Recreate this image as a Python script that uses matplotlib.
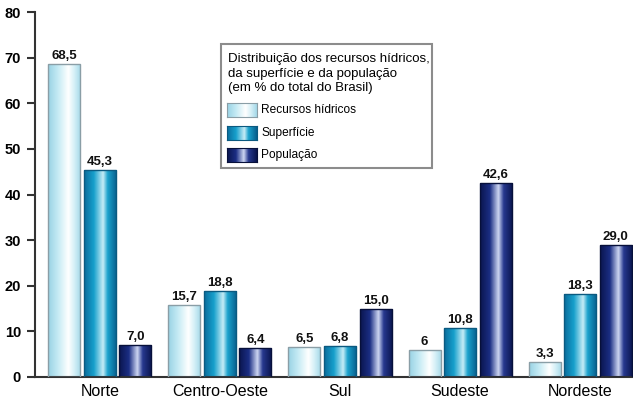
import numpy as np
import matplotlib
matplotlib.use("Agg")
import matplotlib.pyplot as plt
from matplotlib.colors import LinearSegmentedColormap
from matplotlib.patches import Rectangle

plt.rcParams['font.family'] = ['Liberation Sans', 'DejaVu Sans']

categories = ["Norte", "Centro-Oeste", "Sul", "Sudeste", "Nordeste"]
series_names = ["Recursos hídricos", "Superfície", "População"]
recursos = [68.5, 15.7, 6.5, 6.0, 3.3]
superficie = [45.3, 18.8, 6.8, 10.8, 18.3]
populacao = [7.0, 6.4, 15.0, 42.6, 29.0]
recursos_labels = ["68,5", "15,7", "6,5", "6", "3,3"]
superficie_labels = ["45,3", "18,8", "6,8", "10,8", "18,3"]
populacao_labels = ["7,0", "6,4", "15,0", "42,6", "29,0"]
yticks = [0, 10, 20, 30, 40, 50, 60, 70, 80]
legend_title_lines = ["Distribuição dos recursos hídricos,",
                      "da superfície e da população",
                      "(em % do total do Brasil)"]

W, H = 633, 405
fig = plt.figure(figsize=(W / 100, H / 100), dpi=100)
ax = fig.add_axes([35 / W, (H - 377) / H, 598 / W, 365 / H])

gradients = [
    [(0.0, "#98d2e4"), (0.3, "#c4eaf4"), (0.62, "#ffffff"), (0.8, "#d6f0f7"), (1.0, "#a2d8e8")],
    [(0.0, "#0a6c9c"), (0.3, "#17a0cc"), (0.58, "#c6ecf6"), (0.72, "#1ba2cd"), (1.0, "#075e8c")],
    [(0.0, "#0a154e"), (0.3, "#1b2e84"), (0.56, "#cdd6f2"), (0.72, "#27398f"), (1.0, "#09144c")],
]
edgecolors = ["#8a9ea6", "#0b5a80", "#07103a"]
cmaps = [LinearSegmentedColormap.from_list(f"g{i}", g) for i, g in enumerate(gradients)]

x = np.arange(len(categories))
width = 0.267
step = 0.296
all_vals = [recursos, superficie, populacao]
all_labels = [recursos_labels, superficie_labels, populacao_labels]
grad = np.linspace(0, 1, 256).reshape(1, -1)

ax.set_xlim(-0.54, 4.44)
ax.set_ylim(0, 80)

for i, (vals, labs) in enumerate(zip(all_vals, all_labels)):
    bars = ax.bar(x + (i - 1) * step, vals, width, facecolor="none",
                  edgecolor=edgecolors[i], linewidth=1.0, zorder=3)
    for b, lab in zip(bars, labs):
        x0, y0 = b.get_x(), b.get_y()
        w, h = b.get_width(), b.get_height()
        im = ax.imshow(grad, cmap=cmaps[i], extent=(x0, x0 + w, y0, y0 + h),
                       aspect="auto", zorder=2, interpolation="bilinear")
        im.set_clip_path(b)
        ax.annotate(lab, (x0 + w / 2, y0 + h), xytext=(0, 3.6), textcoords="offset points",
                    ha="center", va="baseline", fontsize=9.5, fontweight="bold", color="#111111")

ax.set_xlim(-0.54, 4.44)
ax.set_ylim(0, 80)
ax.set_yticks(yticks)
ax.set_yticklabels([str(t) for t in yticks], fontsize=10.5, fontweight="bold")
ax.set_xticks(x)
ax.set_xticklabels(categories, fontsize=11.5)
ax.tick_params(axis="x", length=0, pad=5)
ax.tick_params(axis="y", length=6, width=1.5, pad=4, color="#333333", direction="out")
for s in ["top", "right"]:
    ax.spines[s].set_visible(False)
for s in ["left", "bottom"]:
    ax.spines[s].set_color("#333333")
    ax.spines[s].set_linewidth(1.5)

# legend (figure pixel coordinates)
def fx(px):
    return px / W

def fy(py):
    return 1 - py / H

box = Rectangle((fx(221), fy(168)), fx(432) - fx(221), fy(44) - fy(168),
                transform=fig.transFigure, facecolor="white", edgecolor="#8c8c8c",
                linewidth=1.5, zorder=5)
fig.add_artist(box)
title_y = [59, 74, 88]
for ty, line in zip(title_y, legend_title_lines):
    fig.text(fx(228), fy(ty), line, fontsize=9.5, va="center", ha="left", zorder=6)
row_y = [110, 133, 155]
for i, name in enumerate(series_names):
    lax = fig.add_axes([fx(227), fy(row_y[i] + 7), fx(257) - fx(227), (14) / H], zorder=7)
    lax.imshow(grad, cmap=cmaps[i], aspect="auto", extent=(0, 1, 0, 1))
    lax.set_xticks([])
    lax.set_yticks([])
    for s in lax.spines.values():
        s.set_color(edgecolors[i])
        s.set_linewidth(0.8)
    fig.text(fx(261), fy(row_y[i]), name, fontsize=8.6, va="center", ha="left", zorder=8)

fig.savefig("out.png", dpi=100, facecolor="white")
